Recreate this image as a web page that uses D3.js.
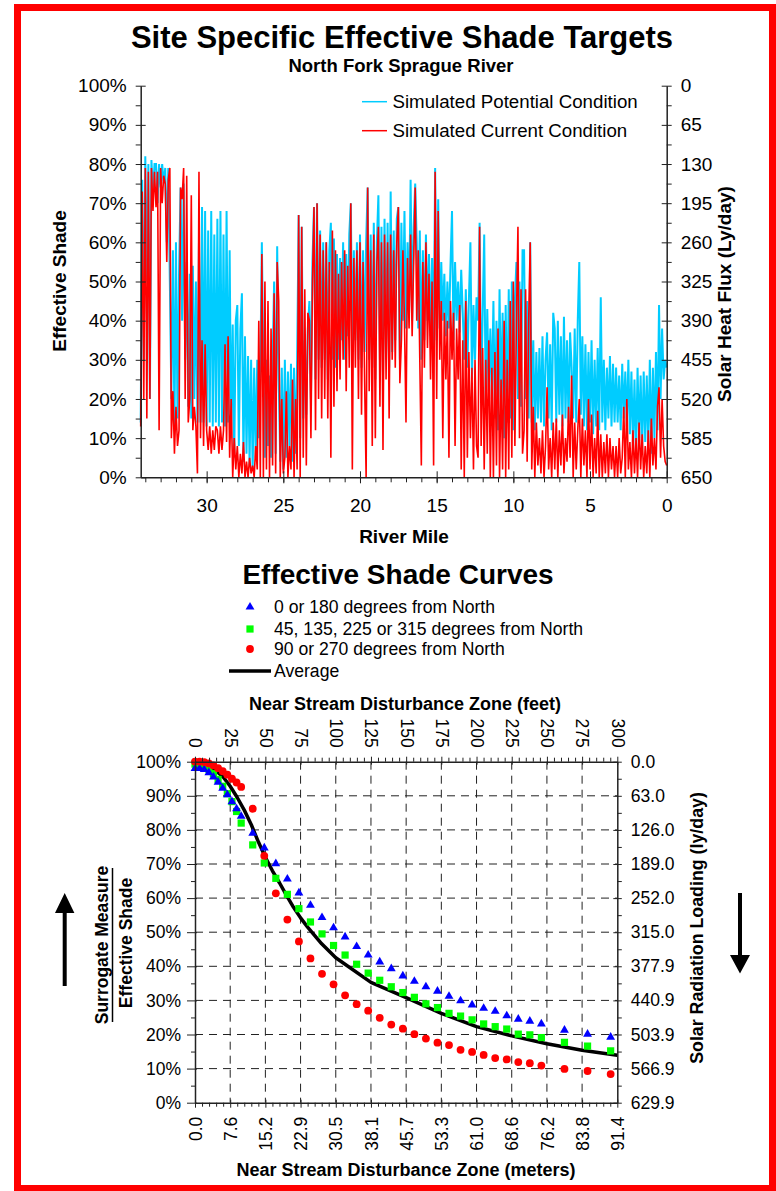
<!DOCTYPE html>
<html>
<head>
<meta charset="utf-8">
<script src="https://cdn.jsdelivr.net/npm/d3@7"></script>
<style>
  body { margin: 0; background: #fff; }
  svg { display: block; font-family: "Liberation Sans", Arial, sans-serif; }
</style>
</head>
<body>
<div id="chart"></div>
<script>
// ---- top chart: effective shade along the river, one value every 0.1 mile (34.3 -> 0.0) ----
const potentialShade = [
  14, 76, 30, 82, 50, 80, 20, 81, 72, 80,
  80, 70, 80, 74, 80, 75, 79, 60, 79, 50,
  20, 58, 12, 60, 15, 52, 74, 40, 75, 30,
  55, 18, 52, 15, 54, 20, 50, 14, 60, 14,
  69, 14, 68, 13, 63, 14, 68, 13, 62, 14,
  66, 13, 68, 14, 62, 13, 68, 14, 58, 10,
  39, 5, 40, 44, 8, 38, 47, 4, 36, 6,
  31, 3, 30, 2, 28, 5, 30, 10, 27, 60,
  28, 5, 30, 8, 26, 5, 29, 50, 6, 59,
  25, 4, 28, 2, 30, 5, 27, 8, 29, 4,
  28, 6, 30, 67, 10, 64, 15, 35, 16, 38,
  45, 20, 55, 69, 25, 70, 30, 63, 28, 60,
  30, 60, 25, 58, 65, 30, 61, 28, 57, 30,
  56, 35, 60, 30, 57, 36, 62, 70, 33, 58,
  35, 60, 30, 62, 28, 58, 32, 60, 74, 30,
  62, 28, 65, 25, 60, 72, 30, 64, 26, 66,
  30, 65, 28, 73, 32, 63, 35, 66, 69, 30,
  65, 40, 68, 38, 60, 42, 76, 40, 64, 75,
  60, 38, 63, 30, 58, 35, 62, 40, 57, 36,
  56, 30, 79, 35, 71, 38, 55, 40, 52, 36,
  50, 38, 54, 68, 35, 55, 40, 50, 37, 53,
  42, 30, 48, 28, 45, 60, 25, 44, 30, 46,
  40, 65, 20, 42, 62, 18, 43, 22, 38, 20,
  45, 15, 40, 12, 48, 18, 42, 10, 44, 14,
  48, 15, 50, 12, 45, 55, 20, 50, 18, 58,
  58, 20, 45, 15, 60, 14, 35, 12, 32, 15,
  33, 14, 36, 13, 30, 37, 15, 34, 12, 42,
  38, 14, 40, 16, 36, 13, 41, 15, 35, 14,
  37, 28, 15, 38, 14, 40, 55, 16, 36, 13,
  34, 12, 32, 14, 35, 11, 30, 13, 33, 12,
  46, 14, 30, 12, 28, 15, 31, 13, 29, 14,
  28, 14, 26, 12, 29, 15, 27, 13, 30, 11,
  27, 8, 25, 6, 28, 10, 26, 7, 27, 9,
  26, 8, 30, 6, 28, 10, 32, 12, 44, 20, 38, 25, 30, 28
];
const currentShade = [
  13, 73, 20, 79, 15, 78, 20, 79, 68, 78,
  69, 78, 12, 79, 70, 77, 75, 55, 76, 79,
  10, 22, 6, 18, 8, 12, 74, 71, 79, 20,
  77, 14, 20, 72, 12, 18, 13, 1, 78, 10,
  35, 8, 34, 12, 7, 13, 6, 12, 7, 13,
  12, 6, 13, 7, 12, 34, 9, 36, 5, 20,
  0, 10, 2, 8, 0, 6, 1, 9, 0, 4,
  0, 5, 1, 3, 0, 8, 2, 40, 0, 57,
  0, 50, 2, 45, 0, 38, 3, 47, 1, 55,
  45, 0, 20, 1, 5, 22, 0, 8, 2, 25,
  0, 20, 2, 67, 0, 64, 5, 48, 3, 42,
  40, 10, 50, 69, 12, 70, 20, 62, 15, 58,
  20, 60, 15, 55, 5, 63, 18, 58, 22, 52,
  25, 55, 30, 58, 22, 54, 28, 70, 2, 56,
  28, 58, 20, 60, 16, 55, 25, 0, 74, 22,
  58, 8, 62, 10, 55, 64, 18, 60, 7, 62,
  25, 60, 15, 62, 30, 58, 28, 60, 69, 24,
  35, 58, 40, 14, 56, 38, 62, 36, 55, 74,
  40, 58, 30, 3, 55, 28, 60, 33, 52, 25,
  50, 3, 78, 20, 68, 30, 45, 10, 42, 25,
  40, 5, 45, 30, 42, 8, 38, 25, 44, 2,
  35, 0, 45, 5, 32, 10, 28, 2, 30, 8,
  5, 64, 8, 33, 2, 30, 6, 35, 0, 28,
  0, 32, 3, 38, 0, 25, 2, 40, 0, 30,
  2, 45, 5, 50, 8, 40, 64, 10, 48, 6,
  12, 48, 4, 40, 60, 2, 18, 0, 14, 3,
  10, 1, 12, 0, 8, 23, 2, 10, 0, 14,
  2, 15, 0, 12, 3, 16, 1, 10, 4, 18,
  5, 26, 0, 14, 2, 12, 20, 0, 15, 3,
  12, 0, 20, 2, 16, 0, 10, 1, 17, 0,
  11, 0, 9, 1, 11, 0, 10, 2, 8, 0,
  8, 0, 10, 1, 5, 18, 0, 20, 2, 9,
  0, 12, 1, 10, 0, 14, 2, 11, 0, 8,
  1, 12, 0, 15, 3, 10, 2, 18, 23, 5, 20, 8, 4, 3
];
const riverMile = d3.range(potentialShade.length - 1, -1, -1).map(i => i / 10);
const shadeTicks = [0, 10, 20, 30, 40, 50, 60, 70, 80, 90, 100];
const fluxTicks = [0, 65, 130, 195, 260, 325, 390, 455, 520, 585, 650];
const mileTicks = [30, 25, 20, 15, 10, 5, 0];

// ---- bottom chart: shade curves vs. disturbance zone width (meters) ----
const zoneMeters = [0, 1, 2, 3, 4, 5, 6, 7, 8, 9, 10, 12.5, 15, 17.5, 20, 22.5, 25, 27.5, 30, 32.5,
  35, 37.5, 40, 42.5, 45, 47.5, 50, 52.5, 55, 57.5, 60, 62.5, 65, 67.5, 70, 72.5, 75, 80, 85, 90];
const northSouth = [98, 98, 97.7, 96.8, 95.5, 94, 92.2, 90.3, 88.3, 86.2, 84, 79, 74.7, 70.1, 65.6, 61.5,
  57.9, 54.3, 51.3, 48.6, 45.8, 43.3, 41.3, 39.3, 37.2, 35.6, 34, 32.7, 31.2, 29.9, 28.7, 27.7,
  26.8, 25.5, 24.5, 23.9, 23.1, 21.3, 20.1, 19.2];
const diagonal = [99.3, 99.2, 98.8, 97.8, 96.5, 94.8, 92.8, 90.6, 88.3, 85.4, 82, 75.6, 70.3, 65.8, 61.1,
  56.9, 53, 49.5, 46.1, 43.3, 40.6, 38, 35.9, 34, 32.3, 30.9, 29, 27.9, 26.2, 25.4, 24.3, 23.1,
  22.3, 21.6, 20.1, 19.9, 19.1, 17.7, 16.6, 15.2];
const eastWest = [100, 100, 99.9, 99.5, 98.9, 98.1, 97.2, 96.2, 95, 93.9, 92.6, 86.2, 72.4, 61.4, 53.7,
  47.3, 42.3, 37.8, 34.7, 31.5, 28.9, 27, 24.9, 22.9, 21.7, 20.1, 18.8, 17.6, 16.9, 15.5, 14.9,
  14, 13.1, 12.7, 11.9, 11.6, 10.9, 9.9, 9.3, 8.4];
const averageFeet = [0, 5, 10, 15, 20, 25, 30, 35, 40, 45, 50, 55, 60, 65, 70, 75, 80, 90, 100,
  125, 150, 175, 200, 225, 250, 275, 300];
const averageShade = [99.3, 99.2, 98.5, 97.3, 95.5, 92.8, 89.5, 85.8, 81.5, 76.5, 72, 68, 64.5, 60.8,
  57.3, 54.2, 51.5, 46.6, 42.5, 35.3, 30.8, 26.2, 22.3, 19.6, 17.3, 15.4, 13.9];
const feetTicks = [0, 25, 50, 75, 100, 125, 150, 175, 200, 225, 250, 275, 300];
const meterLabels = ['0.0', '7.6', '15.2', '22.9', '30.5', '38.1', '45.7', '53.3', '61.0', '68.6', '76.2', '83.8', '91.4'];
const loadingTicks = [0, 63.0, 126.0, 189.0, 252.0, 315.0, 377.9, 440.9, 503.9, 566.9, 629.9];
const legendLabels = ['0 or 180 degrees from North', '45, 135, 225 or 315 degrees from North',
  '90 or 270 degrees from North', 'Average'];

const W = 776, H = 1191;
const svg = d3.select('#chart').append('svg').attr('width', W).attr('height', H);

svg.append('rect')
  .attr('x', 17.5).attr('y', 7.5).attr('width', 755).attr('height', 1181)
  .attr('fill', 'none').attr('stroke', '#ff0000').attr('stroke-width', 7);

function styleAxis(g, size) {
  g.attr('font-size', size).attr('font-family', null);
  g.selectAll('text').attr('fill', '#000');
  g.select('.domain').attr('stroke', '#222').attr('stroke-width', 1.5);
  g.selectAll('.tick line').attr('stroke', '#222');
  return g;
}

function label(text, x, y, size, opts = {}) {
  return svg.append('text')
    .attr('transform', `translate(${x},${y})` + (opts.rotate ? ` rotate(${opts.rotate})` : ''))
    .attr('text-anchor', opts.anchor || 'middle')
    .attr('font-size', size)
    .attr('font-weight', opts.bold ? 'bold' : null)
    .text(text);
}

// ================= top chart =================
const T = { left: 140.7, right: 666.7, top: 85.7, bottom: 477.3 };
const xMile = d3.scaleLinear().domain([34.3, 0]).range([T.left, T.right]);
const yShade = d3.scaleLinear().domain([0, 100]).range([T.bottom, T.top]);
const yFlux = d3.scaleLinear().domain([0, 650]).range([T.top, T.bottom]);

label('Site Specific Effective Shade Targets', 402, 48, 31, { bold: true });
label('North Fork Sprague River', 401, 72, 18.5, { bold: true });

const shadeLine = vals => d3.line()
  .x((d, i) => xMile(riverMile[i]))
  .y(d => yShade(d))(vals);

svg.append('path').attr('d', shadeLine(potentialShade))
  .attr('fill', 'none').attr('stroke', '#00ccff').attr('stroke-width', 2);
svg.append('path').attr('d', shadeLine(currentShade))
  .attr('fill', 'none').attr('stroke', '#ff0000').attr('stroke-width', 1.6);

// left axis
const gL = svg.append('g').attr('transform', `translate(${T.left},0)`)
  .call(d3.axisLeft(yShade).tickValues(shadeTicks).tickFormat(d => d + '%')
    .tickSizeInner(5).tickSizeOuter(0).tickPadding(9));
styleAxis(gL, 19).selectAll('.tick line').attr('x1', 5);
svg.append('g').attr('transform', `translate(${T.left},0)`)
  .call(d3.axisLeft(yShade).tickValues(d3.range(5, 100, 10)).tickSize(5).tickFormat(''))
  .call(g => g.select('.domain').remove())
  .selectAll('line').attr('stroke', '#222');

// right axis
const gR = svg.append('g').attr('transform', `translate(${T.right},0)`)
  .call(d3.axisRight(yFlux).tickValues(fluxTicks).tickSizeInner(5).tickSizeOuter(0).tickPadding(9));
styleAxis(gR, 19).selectAll('.tick line').attr('x1', -5);
svg.append('g').attr('transform', `translate(${T.right},0)`)
  .call(d3.axisRight(yFlux).tickValues(d3.range(32.5, 650, 65)).tickSize(5).tickFormat(''))
  .call(g => g.select('.domain').remove())
  .selectAll('line').attr('stroke', '#222');

// bottom axis
const gB = svg.append('g').attr('transform', `translate(0,${T.bottom})`)
  .call(d3.axisBottom(xMile).tickValues(mileTicks).tickSizeInner(6).tickSizeOuter(0).tickPadding(15));
styleAxis(gB, 19).selectAll('.tick line').attr('y1', -6);
svg.append('g').attr('transform', `translate(0,${T.bottom})`)
  .call(d3.axisBottom(xMile).tickValues(d3.range(1, 35)).tickSize(5).tickFormat(''))
  .call(g => g.select('.domain').remove())
  .selectAll('line').attr('stroke', '#222');

label('Effective Shade', 66, 281, 19, { bold: true, rotate: -90 });
label('Solar Heat Flux (Ly/day)', 731, 294, 19, { bold: true, rotate: -90 });
label('River Mile', 404, 543, 19, { bold: true });

// legend
const topLegend = [
  { name: 'Simulated Potential Condition', color: '#00ccff', y: 101.7 },
  { name: 'Simulated Current Condition', color: '#ff0000', y: 130.7 }
];
topLegend.forEach(d => {
  svg.append('line').attr('x1', 362).attr('x2', 387).attr('y1', d.y).attr('y2', d.y)
    .attr('stroke', d.color).attr('stroke-width', 1.5);
  label(d.name, 392.5, d.y + 6.5, 18.7, { anchor: 'start' });
});

// ================= bottom chart =================
const B = { left: 195, right: 617.3, top: 761.7, bottom: 1102.7 };
const xM = d3.scaleLinear().domain([0, 91.44]).range([B.left, B.right]);
const xFt = d3.scaleLinear().domain([0, 300]).range([B.left, B.right]);
const yPct = d3.scaleLinear().domain([0, 100]).range([B.bottom, B.top]);
const yLoad = d3.scaleLinear().domain([0, 629.9]).range([B.top, B.bottom]);

label('Effective Shade Curves', 398, 584, 28, { bold: true });

// legend
const legX = 250;
const legY = [607, 629, 649, 671];
svg.append('path').attr('d', d3.symbol(d3.symbolTriangle, 34)())
  .attr('transform', `translate(${legX},${legY[0]})`).attr('fill', '#0000ff');
svg.append('rect').attr('x', legX - 3.6).attr('y', legY[1] - 3.6).attr('width', 7.2).attr('height', 7.2)
  .attr('fill', '#00ff00');
svg.append('circle').attr('cx', legX).attr('cy', legY[2]).attr('r', 3.9).attr('fill', '#ff0000');
svg.append('line').attr('x1', 229).attr('x2', 271).attr('y1', legY[3]).attr('y2', legY[3])
  .attr('stroke', '#000').attr('stroke-width', 3.5);
legendLabels.forEach((t, i) => label(t, 274, legY[i] + 5.5, 17.6, { anchor: 'start' }));

// grid
const grid = svg.append('g').attr('stroke', '#222').attr('stroke-width', 1).attr('stroke-dasharray', '8,6');
grid.selectAll('.v').data(feetTicks.slice(1, -1)).enter().append('line')
  .attr('x1', d => xFt(d)).attr('x2', d => xFt(d)).attr('y1', B.top).attr('y2', B.bottom);
grid.selectAll('.h').data(shadeTicks.slice(1, -1)).enter().append('line')
  .attr('y1', d => yPct(d)).attr('y2', d => yPct(d)).attr('x1', B.left).attr('x2', B.right);

// series
const avgLine = d3.line().x((d, i) => xFt(averageFeet[i])).y(d => yPct(d));
svg.append('path').attr('d', avgLine(averageShade))
  .attr('fill', 'none').attr('stroke', '#000').attr('stroke-width', 3.5).attr('stroke-linejoin', 'round');

svg.append('g').selectAll('rect').data(diagonal).enter().append('rect')
  .attr('x', (d, i) => xM(zoneMeters[i]) - 3.6).attr('y', d => yPct(d) - 3.6)
  .attr('width', 7.2).attr('height', 7.2).attr('fill', '#00ff00');
svg.append('g').selectAll('path').data(northSouth).enter().append('path')
  .attr('d', d3.symbol(d3.symbolTriangle, 34)())
  .attr('transform', (d, i) => `translate(${xM(zoneMeters[i])},${yPct(d)})`)
  .attr('fill', '#0000ff');
svg.append('g').selectAll('circle').data(eastWest).enter().append('circle')
  .attr('cx', (d, i) => xM(zoneMeters[i])).attr('cy', d => yPct(d)).attr('r', 3.9)
  .attr('fill', '#ff0000');

// left axis
const bL = svg.append('g').attr('transform', `translate(${B.left},0)`)
  .call(d3.axisLeft(yPct).tickValues(shadeTicks).tickFormat(d => d + '%')
    .tickSizeInner(8).tickSizeOuter(0).tickPadding(6));
styleAxis(bL, 17.5).selectAll('.tick line').attr('x1', 2);
svg.append('g').attr('transform', `translate(${B.left},0)`)
  .call(d3.axisLeft(yPct).tickValues(d3.range(5, 100, 10)).tickSize(4).tickFormat(''))
  .call(g => g.select('.domain').remove())
  .selectAll('line').attr('stroke', '#222');

// right axis
const bR = svg.append('g').attr('transform', `translate(${B.right},0)`)
  .call(d3.axisRight(yLoad).tickValues(loadingTicks).tickFormat(d3.format('.1f'))
    .tickSizeInner(4.5).tickSizeOuter(0).tickPadding(9));
styleAxis(bR, 17.5).selectAll('.tick line').attr('x1', -4);
svg.append('g').attr('transform', `translate(${B.right},0)`)
  .call(d3.axisRight(yPct).tickValues(d3.range(5, 100, 10)).tickSize(4.5).tickFormat(''))
  .call(g => g.select('.domain').remove())
  .selectAll('line').attr('stroke', '#222');

// top axis (feet)
const bT = svg.append('g').attr('transform', `translate(0,${B.top})`)
  .call(d3.axisTop(xFt).tickValues(feetTicks).tickSizeInner(5).tickSizeOuter(0));
styleAxis(bT, 17.5);
bT.selectAll('.tick line').attr('y1', 3);
bT.selectAll('.tick text')
  .attr('transform', 'rotate(90)').attr('x', -14).attr('y', 0).attr('dy', '0.35em')
  .attr('text-anchor', 'end');
svg.append('g').attr('transform', `translate(0,${B.top})`)
  .call(d3.axisTop(xFt).tickValues(d3.range(5, 300, 5).filter(d => d % 25)).tickSize(4).tickFormat(''))
  .call(g => g.select('.domain').remove())
  .selectAll('line').attr('stroke', '#222');

// bottom axis (meters, same positions)
const bB = svg.append('g').attr('transform', `translate(0,${B.bottom})`)
  .call(d3.axisBottom(xFt).tickValues(feetTicks).tickFormat((d, i) => meterLabels[i])
    .tickSizeInner(5).tickSizeOuter(0));
styleAxis(bB, 17.5);
bB.selectAll('.tick line').attr('y1', -3);
bB.selectAll('.tick text')
  .attr('transform', 'rotate(-90)').attr('x', -14).attr('y', 0).attr('dy', '0.35em')
  .attr('text-anchor', 'end');
svg.append('g').attr('transform', `translate(0,${B.bottom})`)
  .call(d3.axisBottom(xFt).tickValues(d3.range(5, 300, 5).filter(d => d % 25)).tickSize(4).tickFormat(''))
  .call(g => g.select('.domain').remove())
  .selectAll('line').attr('stroke', '#222');

label('Near Stream Disturbance Zone (feet)', 405, 710, 18, { bold: true });
label('Near Stream Disturbance Zone (meters)', 406, 1176, 18, { bold: true });
label('Solar Radiation Loading (ly/day)', 703, 928, 17.8, { bold: true, rotate: -90 });
label('Surrogate Measure', 107.5, 945, 17.5, { bold: true, rotate: -90 });
label('Effective Shade', 132, 943, 17.5, { bold: true, rotate: -90 });
svg.append('line').attr('x1', 112.5).attr('x2', 112.5).attr('y1', 868).attr('y2', 1022)
  .attr('stroke', '#000').attr('stroke-width', 1.5);

// arrows
svg.append('path')
  .attr('d', 'M62.7,986 L62.7,913 L55,913 L64.7,893 L74.4,913 L66.7,913 L66.7,986 Z')
  .attr('fill', '#000');
svg.append('path')
  .attr('d', 'M738,893 L742,893 L742,955 L750,955 L740,973.5 L730,955 L738,955 Z')
  .attr('fill', '#000');
</script>
</body>
</html>
